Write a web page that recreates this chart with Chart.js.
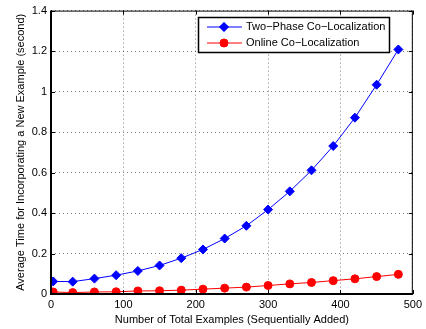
<!DOCTYPE html>
<html>
<head>
<meta charset="utf-8">
<script src="https://cdn.jsdelivr.net/npm/chart.js@4/dist/chart.umd.min.js"></script>
<style>
  html, body { margin: 0; padding: 0; background: #fff; }
  #wrap { width: 426px; height: 329px; }
</style>
</head>
<body>
<div id="wrap"><canvas id="chart" width="426" height="329"></canvas></div>
<script>
'use strict'

let examples = [3, 30, 60, 90, 120, 150, 180, 210, 240, 270, 300, 330, 360, 390, 420, 450, 480];
let twoPhase = [0.062, 0.061, 0.076, 0.093, 0.114, 0.141, 0.177, 0.220, 0.274, 0.337, 0.417, 0.507, 0.611, 0.731, 0.871, 1.034, 1.208];
let online = [0.010, 0.007, 0.010, 0.011, 0.015, 0.016, 0.019, 0.024, 0.029, 0.034, 0.042, 0.050, 0.057, 0.066, 0.075, 0.086, 0.097];
let xTicks = [0, 100, 200, 300, 400, 500];
let yTicks = [0, 0.2, 0.4, 0.6, 0.8, 1, 1.2, 1.4];

const FONT = 'Liberation Sans, Arial, Helvetica, sans-serif';

function toPoints(ys) {
    return examples.map((x, i) => ({ x: x, y: ys[i] }));
}

const dataTiming = {
    datasets: [
        {
            label: 'Two\u2212Phase Co\u2212Localization',
            data: toPoints(twoPhase),
            borderColor: 'rgb(0,0,255)',
            backgroundColor: 'rgb(0,0,255)',
            pointStyle: 'rectRot',
            pointRadius: 4.5,
            borderWidth: 1,
            pointBorderWidth: 1
        },
        {
            label: 'Online Co\u2212Localization',
            data: toPoints(online),
            borderColor: 'rgb(255,0,0)',
            backgroundColor: 'rgb(255,0,0)',
            pointStyle: 'circle',
            pointRadius: 4,
            borderWidth: 1,
            pointBorderWidth: 1
        }
    ]
};

// box, inward ticks and boxed legend, matlab style
const matlabFrame = {
    id: 'matlabFrame',
    afterDraw(chart) {
        const ctx = chart.ctx;
        const a = chart.chartArea;
        const xs = chart.scales.x, ys = chart.scales.y;
        ctx.save();
        ctx.strokeStyle = '#000';
        ctx.lineWidth = 1;
        ctx.strokeRect(a.left + 0.5, a.top + 0.5, a.right - a.left - 1, a.bottom - a.top - 1);
        ctx.beginPath();
        xTicks.forEach(v => {
            const px = Math.round(xs.getPixelForValue(v)) + 0.5;
            ctx.moveTo(px, a.bottom); ctx.lineTo(px, a.bottom - 4);
            ctx.moveTo(px, a.top); ctx.lineTo(px, a.top + 4);
        });
        yTicks.forEach(v => {
            const py = Math.round(ys.getPixelForValue(v)) + 0.5;
            ctx.moveTo(a.left, py); ctx.lineTo(a.left + 4, py);
            ctx.moveTo(a.right, py); ctx.lineTo(a.right - 4, py);
        });
        ctx.stroke();
        ctx.lineWidth = 2;
        ctx.beginPath();
        ctx.moveTo(a.left, a.top); ctx.lineTo(a.left, a.bottom); ctx.lineTo(a.right, a.bottom);
        ctx.stroke();

        // legend
        const lx = 198, ly = 17, lw = 191, lh = 35;
        ctx.fillStyle = '#fff';
        ctx.fillRect(lx, ly, lw, lh);
        ctx.lineWidth = 1.5;
        ctx.strokeRect(lx + 0.5, ly + 0.5, lw, lh);
        ctx.font = '11px ' + FONT;
        ctx.textBaseline = 'middle';
        chart.data.datasets.forEach((ds, i) => {
            const yy = ly + 10 + i * 16;
            ctx.strokeStyle = ds.borderColor;
            ctx.fillStyle = ds.backgroundColor;
            ctx.lineWidth = 1;
            ctx.beginPath();
            ctx.moveTo(lx + 9, yy); ctx.lineTo(lx + 44, yy);
            ctx.stroke();
            Chart.helpers.drawPoint(ctx, { pointStyle: ds.pointStyle, radius: ds.pointRadius, borderWidth: 1, rotation: 0 }, lx + 26, yy);
            ctx.fill();
            ctx.fillStyle = '#000';
            ctx.fillText(ds.label, lx + 48, yy);
        });
        ctx.restore();
    }
};

const configTiming = {
    type: 'line',
    data: dataTiming,
    plugins: [matlabFrame],
    options: {
        responsive: false,
        animation: false,
        devicePixelRatio: 1,
        layout: { padding: { top: 6, right: 10, left: 14, bottom: 0 } },
        plugins: { legend: { display: false }, tooltip: { enabled: false } },
        scales: {
            x: {
                type: 'linear',
                min: 0,
                max: 500,
                afterFit(scale) { scale.height = 35; },
                afterBuildTicks(scale) { scale.ticks = xTicks.map(v => ({ value: v })); },
                ticks: { color: '#000', font: { family: FONT, size: 11 }, padding: 4 },
                grid: { drawTicks: false, color: 'rgba(0,0,0,0.5)', borderDash: [1, 3] },
                border: { display: false, dash: [1, 3] },
                title: { display: true, text: 'Number of Total Examples (Sequentially Added)', color: '#000', font: { family: FONT, size: 11 }, padding: { top: 0, bottom: 2 } }
            },
            y: {
                type: 'linear',
                min: 0,
                max: 1.4,
                afterFit(scale) { scale.width = 37; },
                afterBuildTicks(scale) { scale.ticks = yTicks.map(v => ({ value: v })); },
                ticks: { color: '#000', font: { family: FONT, size: 11 }, padding: 4, callback: v => String(v) },
                grid: { drawTicks: false, color: 'rgba(0,0,0,0.5)', borderDash: [1, 3] },
                border: { display: false, dash: [1, 3] },
                title: { display: true, text: 'Average Time for Incorporating a New Example (second)', color: '#000', font: { family: FONT, size: 11 }, padding: { top: 0, bottom: 0 } }
            }
        }
    }
};

const chartTiming = new Chart(
    document.getElementById('chart'),
    configTiming
);
</script>
</body>
</html>
